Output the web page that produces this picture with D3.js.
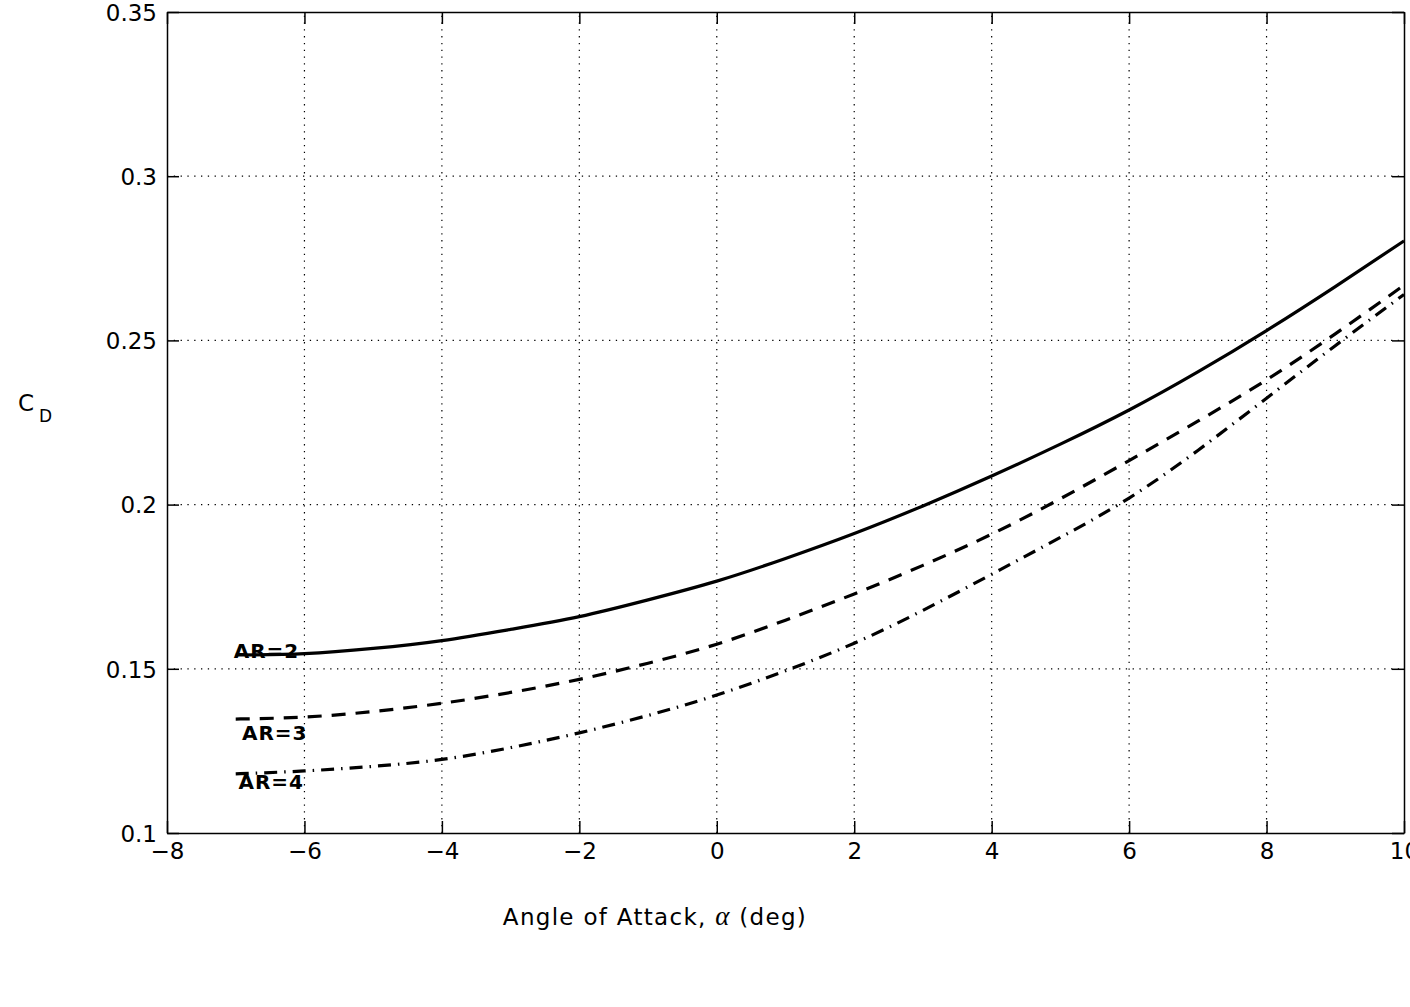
<!DOCTYPE html>
<html>
<head>
<meta charset="utf-8">
<script src="https://cdn.jsdelivr.net/npm/d3@7"></script>
<style>
  html, body { margin:0; padding:0; background:#fff; }
  svg { display:block; font-family:"DejaVu Sans", sans-serif; }
  .tick text { font-family:"DejaVu Sans", sans-serif; font-size:23px; fill:#000; }
  .lbl { font-family:"DejaVu Sans", sans-serif; font-size:20px; font-weight:bold; fill:#000; letter-spacing:1px; }
</style>
</head>
<body>
<svg id="chart" width="1410" height="1007"></svg>
<script>
// angle of attack (deg)
const alpha = [-7,-6,-5,-4,-3,-2,-1,0,1,2,3,4,5,6,7,8,9,10];
// drag coefficient per aspect ratio
const cdAR2 = [0.1542,0.1546,0.1562,0.1586,0.1620,0.1659,0.1710,0.1767,0.1836,0.1912,0.1996,0.2087,0.2184,0.2288,0.2404,0.2530,0.2664,0.2803];
const cdAR3 = [0.1347,0.1353,0.1370,0.1395,0.1428,0.1468,0.1517,0.1575,0.1648,0.1728,0.1815,0.1910,0.2018,0.2134,0.2254,0.2380,0.2520,0.2668];
const cdAR4 = [0.1180,0.1189,0.1203,0.1224,0.1260,0.1305,0.1358,0.1420,0.1494,0.1578,0.1678,0.1788,0.1900,0.2020,0.2165,0.2324,0.2484,0.2640];

const xTicks = [-8,-6,-4,-2,0,2,4,6,8,10];
const yTicks = [0.1,0.15,0.2,0.25,0.3,0.35];

// label anchors in data units
const labels = [
  { text:'AR=2', a:-7.03, cd:0.1532 },
  { text:'AR=3', a:-6.91, cd:0.1283 },
  { text:'AR=4', a:-6.96, cd:0.1133 }
];

const svg = d3.select('#chart');
const L = 167, T = 12, R = 1404, B = 833;
const x = d3.scaleLinear().domain([-8,10]).range([L,R]);
const y = d3.scaleLinear().domain([0.1,0.35]).range([B,T]);

// dotted grid
const grid = svg.append('g').attr('stroke','#000').attr('stroke-width',1.2).attr('stroke-dasharray','1.3,5.5');
grid.selectAll('.gx').data(xTicks.slice(1,-1)).enter().append('line')
  .attr('x1',d=>x(d)).attr('x2',d=>x(d)).attr('y1',B).attr('y2',T);
grid.selectAll('.gy').data(yTicks.slice(1,-1)).enter().append('line')
  .attr('y1',d=>y(d)).attr('y2',d=>y(d)).attr('x1',L).attr('x2',R);

// axes with inward ticks
const fmtY = d=>String(d);
const fmtX = d=>d<0 ? '\u2212'+Math.abs(d) : String(d);
const ax = svg.append('g').attr('transform',`translate(0,${B})`)
  .call(d3.axisBottom(x).tickValues(xTicks).tickFormat(fmtX).tickSizeInner(-12).tickSizeOuter(0).tickPadding(10));
const ay = svg.append('g').attr('transform',`translate(${L},0)`)
  .call(d3.axisLeft(y).tickValues(yTicks).tickFormat(fmtY).tickSizeInner(-12).tickSizeOuter(0).tickPadding(10));
svg.append('g').attr('transform',`translate(0,${T})`)
  .call(d3.axisTop(x).tickValues(xTicks).tickFormat('').tickSizeInner(-12).tickSizeOuter(0));
svg.append('g').attr('transform',`translate(${R},0)`)
  .call(d3.axisRight(y).tickValues(yTicks).tickFormat('').tickSizeInner(-12).tickSizeOuter(0));
svg.selectAll('.domain').attr('stroke','#000').attr('stroke-width',1.5);
svg.selectAll('.tick line').attr('stroke','#000').attr('stroke-width',1.5);
ax.selectAll('text').attr('dy','0.71em');
ay.selectAll('text').attr('dy','0.36em');

// curves
const line = d3.line().x((d,i)=>x(alpha[i])).y(d=>y(d)).curve(d3.curveNatural);
const series = [
  { v:cdAR2, dash:null },
  { v:cdAR3, dash:'14,10' },
  { v:cdAR4, dash:'13,7,1.5,7' }
];
svg.append('g').selectAll('path').data(series).enter().append('path')
  .attr('d',d=>line(d.v)).attr('fill','none').attr('stroke','#000').attr('stroke-width',3.2)
  .attr('stroke-dasharray',d=>d.dash);

svg.append('g').selectAll('text').data(labels).enter().append('text')
  .attr('class','lbl').attr('x',d=>x(d.a)).attr('y',d=>y(d.cd)).text(d=>d.text);

// axis titles
const xl = svg.append('text').attr('x',655).attr('y',925).attr('text-anchor','middle')
  .style('font-size','23px').style('letter-spacing','1.3px');
xl.append('tspan').text('Angle of Attack, ');
xl.append('tspan').style('font-family','"Liberation Serif", serif').style('font-style','italic').style('font-size','27px').text('\u03b1');
xl.append('tspan').text(' (deg)');

const yl = svg.append('text').attr('x',18).attr('y',411).style('font-size','23px');
yl.append('tspan').text('C');
yl.append('tspan').attr('dx',5).attr('dy',11).style('font-size','17px').text('D');
</script>
</body>
</html>
